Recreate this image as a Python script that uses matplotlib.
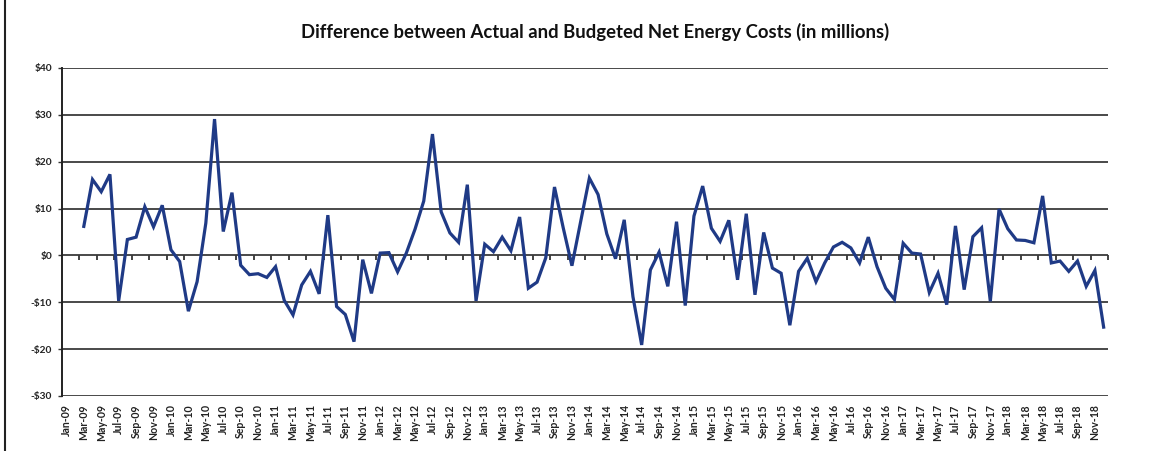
import numpy as np
import matplotlib
matplotlib.use("Agg")
import matplotlib.pyplot as plt
from matplotlib.lines import Line2D

MONTH_NAMES = ["Jan", "Feb", "Mar", "Apr", "May", "Jun",
               "Jul", "Aug", "Sep", "Oct", "Nov", "Dec"]
YEARS = list(range(2009, 2019))
months = [f"{m}-{y % 100:02d}" for y in YEARS for m in MONTH_NAMES]

# Difference between actual and budgeted net energy costs ($ millions), monthly
diff_2009 = [np.nan, np.nan, 6.2, 16.2, 13.6, 17.3, -9.7, 3.4, 3.9, 10.4, 6.1, 10.7]
diff_2010 = [1.2, -1.3, -11.9, -5.6, 6.9, 29.1, 5.1, 13.4, -2.1, -4.1, -3.9, -4.7]
diff_2011 = [-2.4, -9.6, -12.7, -6.3, -3.4, -8.2, 8.6, -10.9, -12.6, -18.4, -0.9, -8.1]
diff_2012 = [0.5, 0.6, -3.5, 0.5, 5.6, 11.6, 25.9, 9.3, 4.8, 2.8, 15.1, -9.7]
diff_2013 = [2.4, 0.8, 3.9, 1.0, 8.2, -7.0, -5.7, -0.5, 14.6, 5.9, -2.2, 7.2]
diff_2014 = [16.5, 13.0, 4.6, -0.7, 7.6, -8.8, -19.1, -3.1, 0.7, -6.6, 7.2, -10.7]
diff_2015 = [8.4, 14.8, 5.8, 3.0, 7.5, -5.2, 8.9, -8.4, 4.9, -2.7, -3.8, -14.9]
diff_2016 = [-3.4, -0.6, -5.6, -1.6, 1.8, 2.8, 1.6, -1.6, 3.9, -2.4, -7.0, -9.4]
diff_2017 = [2.6, 0.5, 0.3, -7.9, -3.8, -10.5, 6.3, -7.3, 4.0, 5.9, -9.8, 9.9]
diff_2018 = [5.7, 3.3, 3.2, 2.7, 12.7, -1.6, -1.2, -3.4, -1.2, -6.6, -3.2, -15.3]

values = np.array(diff_2009 + diff_2010 + diff_2011 + diff_2012 + diff_2013 +
                  diff_2014 + diff_2015 + diff_2016 + diff_2017 + diff_2018, dtype=float)

y_ticks = [-30, -20, -10, 0, 10, 20, 30, 40]
y_labels = ["-$30", "-$20", "-$10", "$0", "$10", "$20", "$30", "$40"]

title = "Difference between Actual and Budgeted Net Energy Costs (in millions)"

plt.rcParams['font.family'] = ['Lato', 'DejaVu Sans']

fig = plt.figure(figsize=(11.5, 4.51), dpi=100)
fig.patch.set_facecolor("white")
ax = fig.add_axes([62 / 1150, 1 - 396 / 451, (1108 - 62) / 1150, (396 - 68) / 451])

x = np.arange(len(months))
ax.plot(x, values, color="#1f3a86", lw=2.3, solid_joinstyle="miter", zorder=3)

ax.set_xlim(-0.5, len(months) - 0.5)
ax.set_ylim(-30, 40)

ax.set_yticks(y_ticks)
ax.set_yticklabels(y_labels, fontsize=7.3, fontweight="bold", color="#222222")
ax.tick_params(axis="y", length=3, width=1, color="#333333", pad=4)
ax.yaxis.grid(True, color="#3a3a3a", lw=1.3)
ax.set_axisbelow(True)

label_pos = x[::2]
ax.set_xticks(label_pos)
ax.set_xticklabels(months[::2], rotation=90, fontsize=7.6, fontweight="bold", color="#222222")
ax.tick_params(axis="x", length=0, pad=6)

for s in ["top", "right", "bottom"]:
    ax.spines[s].set_visible(False)
ax.spines["left"].set_color("#222222")
ax.spines["left"].set_linewidth(1.4)

# category-axis tick marks crossing at $0
zero_frac = (0 - ax.get_ylim()[0]) / (ax.get_ylim()[1] - ax.get_ylim()[0])
sec = ax.secondary_xaxis(zero_frac)
sec.set_xticks(np.arange(1.5, len(months), 2))
sec.tick_params(axis="x", direction="out", length=3.5, width=1.2, color="#222222", labelbottom=False)
sec.spines["bottom"].set_visible(False)

fig.text(595 / 1150, 1 - 32 / 451, title, ha="center", va="center",
         fontsize=13.3, fontweight="bold", color="#111111")

# page border line at left edge of the scanned chart
fig.add_artist(Line2D([5 / 1150, 5 / 1150], [0, 1], transform=fig.transFigure,
                      color="#222222", lw=1.5))

fig.savefig("out.png", dpi=100, facecolor="white")
